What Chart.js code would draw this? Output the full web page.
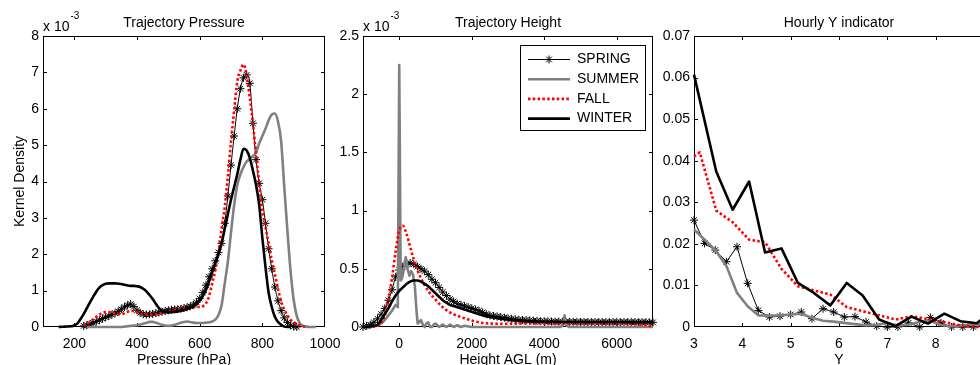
<!DOCTYPE html>
<html>
<head>
<meta charset="utf-8">
<title>Trajectory kernel densities</title>
<script src="https://cdn.jsdelivr.net/npm/chart.js@4"></script>
<style>
  html, body { margin: 0; padding: 0; overflow: hidden; background: #fff; }
  body { width: 980px; height: 365px; position: relative; }
  canvas { position: absolute; top: 0; }
</style>
</head>
<body>
<canvas id="pressureChart" width="350" height="365" style="left:0px"></canvas>
<canvas id="heightChart" width="335" height="365" style="left:330px"></canvas>
<canvas id="hourlyChart" width="340" height="365" style="left:660px"></canvas>
<script>
const seasons = ['SPRING', 'SUMMER', 'FALL', 'WINTER'];

// Trajectory Pressure, kernel density in units of 10^-3
const pressureLevels = [150, 160, 170, 180, 190, 200, 210, 220, 230, 240,
  250, 260, 270, 280, 290, 300, 310, 320, 330, 340,
  350, 360, 370, 380, 390, 400, 410, 420, 430, 440,
  450, 460, 470, 480, 490, 500, 510, 520, 530, 540,
  550, 560, 570, 580, 590, 600, 610, 620, 630, 640,
  650, 660, 670, 680, 690, 700, 710, 720, 730, 740,
  750, 760, 770, 780, 790, 800, 810, 820, 830, 840,
  850, 860, 870, 880, 890, 900, 910, 920, 930, 940,
  950, 960, 970];
const pressureSpring = [null, null, null, null, null, null, null, null,
  0.03, 0.05, 0.08, 0.11, 0.15, 0.19, 0.23, 0.27, 0.3, 0.34,
  0.38, 0.43, 0.49, 0.55, 0.6, 0.63, 0.56, 0.46, 0.39, 0.35,
  0.34, 0.35, 0.36, 0.38, 0.4, 0.42, 0.44, 0.46, 0.47, 0.48,
  0.49, 0.5, 0.52, 0.54, 0.57, 0.61, 0.68, 0.78, 0.95, 1.15,
  1.38, 1.6, 1.82, 2.05, 2.3, 2.85, 3.6, 4.45, 5.25, 6.0,
  6.55, 6.85, 6.93, 6.7, 5.6, 4.6, 3.95, 3.5, 2.85, 2.15,
  1.6, 1.1, 0.72, 0.45, 0.25, 0.12, 0.05, 0.01, 0,
  null, null, null, null, null, null];
const pressureSummer = [null, null, null, null, null, null, null, null, null,
  0, 0, 0, 0, 0, 0, 0, 0, 0, 0,
  0, 0, 0.01, 0.02, 0.03, 0.04, 0.05, 0.07, 0.09, 0.12,
  0.14, 0.14, 0.12, 0.09, 0.06, 0.04, 0.03, 0.04, 0.06, 0.09,
  0.12, 0.14, 0.15, 0.14, 0.12, 0.11, 0.11, 0.11, 0.12, 0.13,
  0.15, 0.2, 0.33, 0.6, 1.2, 1.8, 2.6, 3.35, 3.9, 4.2,
  4.4, 4.55, 4.62, 4.7, 4.8, 5.05, 5.25, 5.45, 5.68, 5.84,
  5.87, 5.65, 5.1, 3.85, 2.65, 1.55, 0.75, 0.3, 0.1, 0.03,
  0.01, 0, 0, 0];
const pressureFall = [null, null, null, null, null, null, null, null,
  0.03, 0.08, 0.14, 0.21, 0.28, 0.34, 0.39, 0.41, 0.41, 0.39,
  0.37, 0.35, 0.35, 0.38, 0.42, 0.44, 0.44, 0.41, 0.37, 0.35,
  0.34, 0.34, 0.34, 0.35, 0.37, 0.39, 0.41, 0.43, 0.45, 0.47,
  0.49, 0.5, 0.51, 0.52, 0.53, 0.54, 0.55, 0.55, 0.57, 0.65,
  0.85, 1.2, 1.56, 2.05, 2.7, 3.3, 4.15, 5.1, 5.95, 6.75,
  7.05, 7.22, 6.9, 6.3, 5.6, 4.75, 3.95, 3.2, 2.75, 2.3,
  1.84, 1.45, 1.05, 0.7, 0.48, 0.32, 0.2, 0.13, 0.09, 0.05,
  0.02, 0, null, null, null];
const pressureWinter = [0, 0.005, 0.01, 0.015, 0.02, 0.04, 0.1, 0.22, 0.36, 0.52,
  0.68, 0.83, 0.97, 1.08, 1.15, 1.19, 1.2, 1.2, 1.2, 1.19,
  1.18, 1.16, 1.14, 1.13, 1.13, 1.12, 1.1, 1.05, 0.98, 0.88,
  0.77, 0.64, 0.52, 0.44, 0.41, 0.4, 0.41, 0.42, 0.43, 0.45,
  0.47, 0.5, 0.53, 0.57, 0.63, 0.72, 0.85, 1.02, 1.25, 1.5,
  1.75, 2.0, 2.3, 2.7, 3.1, 3.5, 3.85, 4.2, 4.6, 4.9,
  4.85, 4.65, 4.3, 3.9, 3.35, 2.45, 1.65, 0.95, 0.55, 0.28,
  0.14, 0.06, 0.01, 0, 0,
  null, null, null, null, null, null, null, null];

// Trajectory Height, kernel density in units of 10^-3
const heightLevels = [-1000, -900, -800, -700, -600, -500, -400, -300, -200, -100,
  0, 100, 200, 300, 400, 500, 600, 700, 800, 900,
  1000, 1100, 1200, 1300, 1400, 1500, 1600, 1700, 1800, 1900,
  2000, 2100, 2200, 2300, 2400, 2500, 2600, 2700, 2800, 2900,
  3000, 3100, 3200, 3300, 3400, 3500, 3600, 3700, 3800, 3900,
  4000, 4100, 4200, 4300, 4400, 4500, 4600, 4700, 4800, 4900,
  5000, 5100, 5200, 5300, 5400, 5500, 5600, 5700, 5800, 5900,
  6000, 6100, 6200, 6300, 6400, 6500, 6600, 6700, 6800, 6900,
  7000];
const heightSpring = [0, 0.01, 0.02, 0.04, 0.07, 0.11, 0.16, 0.23, 0.32, 0.43,
  0.49, 0.52, 0.54, 0.55, 0.54, 0.52, 0.5, 0.48, 0.45, 0.41,
  0.38, 0.34, 0.3, 0.27, 0.24, 0.22, 0.2, 0.19, 0.18, 0.17,
  0.16, 0.15, 0.14, 0.125, 0.11, 0.1, 0.095, 0.09, 0.085, 0.08,
  0.075, 0.07, 0.066, 0.062, 0.06, 0.058, 0.056, 0.054, 0.052, 0.05,
  0.049, 0.048, 0.047, 0.046, 0.045, 0.045, 0.045, 0.044, 0.044, 0.044,
  0.043, 0.043, 0.043, 0.042, 0.042, 0.042, 0.042, 0.042, 0.042, 0.042,
  0.042, 0.042, 0.042, 0.042, 0.042, 0.042, 0.041, 0.041, 0.041, 0.04,
  0.04];
const heightFall = [0, 0, 0, 0.005, 0.01, 0.03, 0.1, 0.24, 0.42, 0.65,
  0.83, 0.87, 0.8, 0.69, 0.58, 0.49, 0.42, 0.36, 0.31, 0.27,
  0.235, 0.2, 0.17, 0.145, 0.125, 0.11, 0.097, 0.085, 0.075, 0.065,
  0.055, 0.047, 0.04, 0.035, 0.032, 0.03, 0.029, 0.028, 0.028, 0.028,
  0.028, 0.028, 0.029, 0.029, 0.03, 0.03, 0.03, 0.03, 0.03, 0.03,
  0.03, 0.03, 0.03, 0.03, 0.03, 0.03, 0.03, 0.03, 0.03, 0.03,
  0.03, 0.03, 0.03, 0.03, 0.03, 0.03, 0.029, 0.029, 0.029, 0.029,
  0.029, 0.029, 0.028, 0.028, 0.027, 0.026, 0.024, 0.02, 0.015, 0.01,
  0.006];
const heightWinter = [0, 0, 0.005, 0.01, 0.02, 0.06, 0.11, 0.16, 0.22, 0.27,
  0.31, 0.34, 0.37, 0.39, 0.4, 0.4, 0.39, 0.37, 0.35, 0.32,
  0.29, 0.26, 0.23, 0.21, 0.19, 0.18, 0.17, 0.16, 0.15, 0.14,
  0.13, 0.12, 0.11, 0.1, 0.093, 0.088, 0.082, 0.077, 0.072, 0.068,
  0.064, 0.06, 0.057, 0.055, 0.052, 0.05, 0.048, 0.047, 0.046, 0.045,
  0.045, 0.044, 0.044, 0.044, 0.043, 0.043, 0.043, 0.043, 0.043, 0.043,
  0.043, 0.043, 0.043, 0.043, 0.043, 0.043, 0.043, 0.043, 0.043, 0.043,
  0.043, 0.043, 0.042, 0.042, 0.042, 0.042, 0.042, 0.042, 0.042, 0.042,
  0.042];
// summer has a sharp spike at the ground, so it keeps its own heights
const heightSummerLevels = [-1000, -800, -600, -500, -400, -300, -200, -100, -40, 0,
  40, 80, 130, 180, 230, 280, 330, 380, 430, 480,
  510, 550, 600, 650, 700, 750, 800, 850, 900, 950,
  1000, 1100, 1200, 1300, 1400, 1500, 1600, 1700, 1800, 2000,
  2500, 3000, 3500, 4000, 4450, 4520, 4560, 4600, 4680, 5000,
  6000, 7000];
const heightSummer = [0, 0, 0.01, 0.03, 0.06, 0.1, 0.14, 0.19, 0.17, 2.25,
  0.4, 0.42, 0.5, 0.6, 0.5, 0.44, 0.48, 0.45, 0.35, 0.12,
  0.03, 0.04, 0.06, 0.02, 0, 0.03, 0.04, 0, 0, 0.02,
  0.03, 0, 0.02, 0, 0.02, 0, 0.015, 0, 0.01, 0,
  0, 0, 0, 0, 0, 0.02, 0.1, 0.02, 0, 0,
  0, 0];

// Hourly Y indicator
const hourlyBins = [3, 3.22, 3.44, 3.67, 3.89, 4.11, 4.33, 4.56, 4.78, 5,
  5.22, 5.44, 5.67, 5.89, 6.11, 6.33, 6.56, 6.78, 7, 7.22,
  7.44, 7.67, 7.89, 8.11, 8.33, 8.56, 8.78, 9];
const hourlySpring = [0.0257, 0.0201, 0.0185, 0.0157, 0.0193, 0.0105, 0.004, 0.0024, 0.0026, 0.003,
  0.0036, 0.002, 0.0044, 0.0036, 0.0024, 0.0025, 0.0012, 0.0002, 0, 0,
  0.001, 0, 0.0023, 0.001, 0, 0, 0, 0.0005];
const hourlySummer = [0.0235, 0.021, 0.0185, 0.0147, 0.0082, 0.005, 0.0028, 0.0027, 0.0028, 0.003,
  0.0032, 0.0022, 0.0015, 0.0013, 0.001, 0.0007, 0.0004, 0.0005, 0.001, 0.0003,
  0.0006, 0.0012, 0.0015, 0.0005, 0.0002, 0.0004, 0.0006, 0.0008];
const hourlyFallBins = [3, 3.12, 3.46, 3.8, 4.14, 4.47, 4.81, 5.15, 5.48, 5.82,
  6.16, 6.49, 6.83, 7.17, 7.5, 7.84, 8.18, 8.51, 8.85, 9.19];
const hourlyFall = [0.041, 0.042, 0.028, 0.0252, 0.021, 0.0204, 0.014, 0.0098, 0.0088, 0.0078,
  0.0048, 0.0038, 0.0028, 0.0018, 0.0026, 0.0019, 0.0012, 0.0004, 0, 0];
const hourlyWinterBins = [3, 3.46, 3.8, 4.14, 4.47, 4.81, 5.15, 5.48, 5.82, 6.16,
  6.49, 6.83, 7.17, 7.5, 7.84, 8.18, 8.51, 8.85, 9.19];
const hourlyWinter = [0.0607, 0.0374, 0.0282, 0.035, 0.0179, 0.0189, 0.0106, 0.0082, 0.0052, 0.0106,
  0.0076, 0.0018, 0.0002, 0.0025, 0.0008, 0.0032, 0.0014, 0.0009, 0.004];

// tick positions
const pressureTicks = [200, 400, 600, 800, 1000];
const pressureDensityTicks = [0, 1, 2, 3, 4, 5, 6, 7, 8];
const heightTicks = [0, 2000, 4000, 6000];
const heightDensityTicks = [0, 0.5, 1, 1.5, 2, 2.5];
const hourlyTicks = [3, 4, 5, 6, 7, 8, 9];
const hourlyValueTicks = [0, 0.01, 0.02, 0.03, 0.04, 0.05, 0.06, 0.07];

const FONT = '"Liberation Sans", Arial, Helvetica, sans-serif';
Chart.defaults.font.family = FONT;
Chart.defaults.font.size = 14;
Chart.defaults.color = '#000';

const seasonStyle = {
  SPRING: { borderColor: '#000', borderWidth: 1, pointStyle: 'star', pointRadius: 4,
            pointBorderColor: '#000', pointBorderWidth: 1, order: 4 },
  SUMMER: { borderColor: '#808080', borderWidth: 2.6, pointRadius: 0, order: 3 },
  FALL:   { borderColor: '#ff0000', borderWidth: 2.6, borderDash: [2.5, 2.3], pointRadius: 0, order: 2 },
  WINTER: { borderColor: '#000', borderWidth: 2.6, pointRadius: 0, order: 1 }
};

function series(label, xs, ys, extra) {
  const data = [];
  xs.forEach((x, i) => { if (ys[i] !== null) data.push({ x: x, y: ys[i] }); });
  return Object.assign({ label, data, fill: false, clip: false, borderJoinStyle: 'round',
    pointHoverRadius: 0, pointBackgroundColor: 'transparent' }, seasonStyle[label], extra || {});
}

function drawStar(ctx, x, y, r) {
  const d = r * Math.SQRT1_2;
  ctx.beginPath();
  ctx.moveTo(x - r, y); ctx.lineTo(x + r, y);
  ctx.moveTo(x, y - r); ctx.lineTo(x, y + r);
  ctx.moveTo(x - d, y - d); ctx.lineTo(x + d, y + d);
  ctx.moveTo(x - d, y + d); ctx.lineTo(x + d, y - d);
  ctx.stroke();
}

// box, inward ticks on all four sides, titles and legend in the MATLAB look
function matlabAxes(panel) {
  return {
    id: 'matlabAxes',
    beforeDatasetsDraw(chart) {
      const { ctx, chartArea: a, scales } = chart;
      const snapX = p => Math.min(Math.max(Math.round(p) + 0.5, a.left + 0.5), a.right - 0.5);
      const snapY = p => Math.min(Math.max(Math.round(p) + 0.5, a.top + 0.5), a.bottom - 0.5);
      ctx.save();
      ctx.strokeStyle = '#000';
      ctx.lineWidth = 1;
      ctx.beginPath();
      ctx.rect(a.left + 0.5, a.top + 0.5, a.right - a.left - 1, a.bottom - a.top - 1);
      scales.x.ticks.forEach(t => {
        const px = snapX(scales.x.getPixelForValue(t.value));
        ctx.moveTo(px, a.bottom); ctx.lineTo(px, a.bottom - 4);
        ctx.moveTo(px, a.top); ctx.lineTo(px, a.top + 4);
      });
      scales.y.ticks.forEach(t => {
        const py = snapY(scales.y.getPixelForValue(t.value));
        ctx.moveTo(a.left, py); ctx.lineTo(a.left + 4, py);
        ctx.moveTo(a.right, py); ctx.lineTo(a.right - 4, py);
      });
      ctx.stroke();
      ctx.restore();
    },
    afterDraw(chart) {
      const { ctx, chartArea: a } = chart;
      const cx = (a.left + a.right) / 2;
      ctx.save();
      ctx.fillStyle = '#000';
      ctx.font = '14px ' + FONT;
      ctx.textAlign = 'center';
      ctx.textBaseline = 'alphabetic';
      ctx.fillText(panel.title, cx, 27);
      ctx.fillText(panel.xLabel, cx, 364);
      if (panel.exponent) {
        ctx.textAlign = 'left';
        ctx.fillText('x 10', a.left, 31);
        const w = ctx.measureText('x 10').width;
        ctx.font = '10px ' + FONT;
        ctx.fillText(panel.exponent, a.left + w + 1, 18.5);
        ctx.font = '14px ' + FONT;
      }
      if (panel.yLabel) {
        ctx.save();
        ctx.translate(23.5, (a.top + a.bottom) / 2);
        ctx.rotate(-Math.PI / 2);
        ctx.textAlign = 'center';
        ctx.fillText(panel.yLabel, 0, 0);
        ctx.restore();
      }
      if (panel.legend) {
        const L = panel.legend;
        const bx = a.left + L.dx, by = a.top + L.dy;
        ctx.fillStyle = '#fff';
        ctx.fillRect(bx, by, L.w, L.h);
        ctx.strokeStyle = '#000';
        ctx.lineWidth = 1;
        ctx.strokeRect(bx + 0.5, by + 0.5, L.w, L.h);
        seasons.forEach((name, i) => {
          const ds = chart.data.datasets.find(d => d.label === name);
          const yy = by + 14.5 + i * 19.7;
          ctx.save();
          ctx.strokeStyle = ds.borderColor;
          ctx.lineWidth = ds.borderWidth;
          ctx.setLineDash(ds.borderDash || []);
          ctx.beginPath();
          ctx.moveTo(bx + 8, yy);
          ctx.lineTo(bx + 50, yy);
          ctx.stroke();
          if (ds.pointStyle === 'star') {
            ctx.setLineDash([]);
            ctx.lineWidth = 1;
            drawStar(ctx, bx + 29, yy, ds.pointRadius);
          }
          ctx.restore();
          ctx.fillStyle = '#000';
          ctx.textAlign = 'left';
          ctx.textBaseline = 'middle';
          ctx.fillText(name, bx + 57, yy);
        });
      }
      ctx.restore();
    }
  };
}

function makeChart(id, cfg) {
  const canvas = document.getElementById(id);
  const canvasLeft = parseFloat(canvas.style.left);
  const yWidth = cfg.area[0] - canvasLeft;
  const rightPad = canvas.width - (cfg.area[1] - canvasLeft);
  const fmt = v => String(+Number(v).toFixed(4));
  return new Chart(canvas, {
    type: 'line',
    data: { datasets: cfg.datasets },
    options: {
      responsive: false,
      animation: false,
      events: [],
      layout: { autoPadding: false, padding: { top: 36, bottom: 0, left: 0, right: rightPad } },
      scales: {
        x: {
          type: 'linear', min: cfg.xMin, max: cfg.xMax,
          afterBuildTicks: s => { s.ticks = cfg.xTicks.map(value => ({ value })); },
          afterFit: s => { s.height = 38; },
          grid: { display: false, drawTicks: false },
          border: { display: false },
          ticks: { padding: 9, maxRotation: 0, autoSkip: false, color: '#000', callback: fmt }
        },
        y: {
          type: 'linear', min: cfg.yMin, max: cfg.yMax,
          afterBuildTicks: s => { s.ticks = cfg.yTicks.map(value => ({ value })); },
          afterFit: s => { s.width = yWidth; },
          grid: { display: false, drawTicks: false },
          border: { display: false },
          ticks: { padding: 4, autoSkip: false, color: '#000', callback: fmt }
        }
      },
      plugins: { legend: { display: false }, tooltip: { enabled: false } }
    },
    plugins: [matlabAxes(cfg.panel)]
  });
}

const smooth = { cubicInterpolationMode: 'monotone' };

makeChart('pressureChart', {
  area: [43, 325],
  xMin: 100, xMax: 1000, xTicks: pressureTicks,
  yMin: 0, yMax: 8, yTicks: pressureDensityTicks,
  panel: { title: 'Trajectory Pressure', xLabel: 'Pressure (hPa)', yLabel: 'Kernel Density', exponent: '-3' },
  datasets: [
    series('SPRING', pressureLevels, pressureSpring, smooth),
    series('SUMMER', pressureLevels, pressureSummer, smooth),
    series('FALL', pressureLevels, pressureFall, smooth),
    series('WINTER', pressureLevels, pressureWinter, smooth)
  ]
});

makeChart('heightChart', {
  area: [363, 653],
  xMin: -1000, xMax: 7000, xTicks: heightTicks,
  yMin: 0, yMax: 2.5, yTicks: heightDensityTicks,
  panel: { title: 'Trajectory Height', xLabel: 'Height AGL (m)', exponent: '-3',
           legend: { dx: 157, dy: 9, w: 125, h: 85 } },
  datasets: [
    series('SPRING', heightLevels, heightSpring, smooth),
    series('SUMMER', heightSummerLevels, heightSummer),
    series('FALL', heightLevels, heightFall, smooth),
    series('WINTER', heightLevels, heightWinter, smooth)
  ]
});

makeChart('hourlyChart', {
  area: [694, 984],
  xMin: 3, xMax: 9, xTicks: hourlyTicks,
  yMin: 0, yMax: 0.07, yTicks: hourlyValueTicks,
  panel: { title: 'Hourly Y indicator', xLabel: 'Y' },
  datasets: [
    series('SPRING', hourlyBins, hourlySpring),
    series('SUMMER', hourlyBins, hourlySummer),
    series('FALL', hourlyFallBins, hourlyFall),
    series('WINTER', hourlyWinterBins, hourlyWinter)
  ]
});
</script>
</body>
</html>
